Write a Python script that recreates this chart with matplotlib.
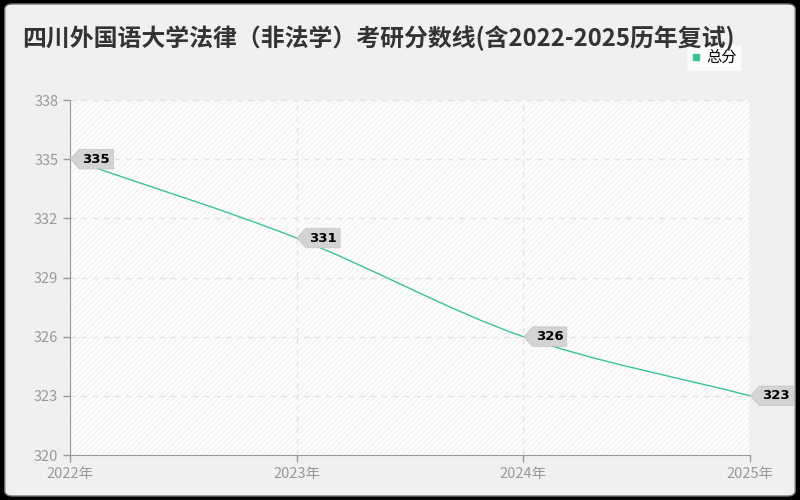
import matplotlib.pyplot as plt
import numpy as np
from matplotlib.patches import FancyBboxPatch, Rectangle, PathPatch
from matplotlib.path import Path
from matplotlib.lines import Line2D

plt.rcParams['font.family'] = ['Noto Sans CJK SC', 'DejaVu Sans']

years = [2022, 2023, 2024, 2025]
year_labels = ['2022年', '2023年', '2024年', '2025年']
scores = [335, 331, 326, 323]
y_ticks = [320, 323, 326, 329, 332, 335, 338]
title = '四川外国语大学法律（非法学）考研分数线(含2022-2025历年复试)'
series_name = '总分'

line_color = '#3cc29a'
gray = '#999999'


def tag_box(x0, y0, width, height, mutation_size):
    pad = 0.25 * mutation_size
    x0, y0 = x0 - pad, y0 - pad
    x1, y1 = x0 + width + 2 * pad, y0 + height + 2 * pad
    ym = (y0 + y1) / 2
    tip = 0.45 * (y1 - y0)
    return Path([(x0, y0), (x1, y0), (x1, y1), (x0, y1), (x0 - tip, ym), (x0, y0)],
                closed=True)


fig = plt.figure(figsize=(8, 5), dpi=100, facecolor='black')
fig.patches.append(FancyBboxPatch((0.006, 0.008), 0.988, 0.984,
                                  boxstyle='round,pad=0,rounding_size=0.01',
                                  transform=fig.transFigure, facecolor='#f0f0f0',
                                  edgecolor='#777777', linewidth=1, zorder=-10))

ax = fig.add_axes([0.0875, 0.09, 0.85, 0.71])
ax.set_facecolor('#fdfdfd')
ax.add_patch(Rectangle((0, 0), 1, 1, transform=ax.transAxes, facecolor='none',
                       edgecolor='#f3f3f3', hatch='//////', linewidth=0, zorder=0))

# smooth line through the points (cubic bezier segments)
x = np.array(years, dtype=float)
y = np.array(scores, dtype=float)
n = len(x)
slopes = np.zeros(n)
for i in range(n):
    if i == 0:
        slopes[i] = (y[1] - y[0]) / (x[1] - x[0])
    elif i == n - 1:
        slopes[i] = (y[-1] - y[-2]) / (x[-1] - x[-2])
    else:
        slopes[i] = (y[i + 1] - y[i - 1]) / (x[i + 1] - x[i - 1])
verts = [(x[0], y[0])]
codes = [Path.MOVETO]
for i in range(n - 1):
    h = (x[i + 1] - x[i]) / 3
    verts += [(x[i] + h, y[i] + slopes[i] * h),
              (x[i + 1] - h, y[i + 1] - slopes[i + 1] * h),
              (x[i + 1], y[i + 1])]
    codes += [Path.CURVE4] * 3
ax.add_patch(PathPatch(Path(verts, codes), facecolor='none', edgecolor=line_color,
                       linewidth=1, zorder=3, clip_on=False))

for xv, yv in zip(years, scores):
    ax.annotate(str(yv), (xv, yv), xytext=(9, 0), textcoords='offset points',
                ha='left', va='center', fontsize=9.5, fontweight='bold', color='black',
                family=['DejaVu Sans'],
                bbox=dict(boxstyle=tag_box, facecolor='#d3d3d3',
                          edgecolor='#c4c4c4', linewidth=0.5),
                zorder=5, annotation_clip=False)

ax.set_xlim(2022, 2025)
ax.set_ylim(320, 338)
ax.set_xticks(years)
ax.set_xticklabels(year_labels)
ax.set_yticks(y_ticks)
ax.tick_params(colors=gray, labelsize=10.5, length=5, width=1)
for lab in ax.get_xticklabels() + ax.get_yticklabels():
    lab.set_color(gray)
ax.grid(True, linestyle=(0, (4, 4)), color='#e3e3e3', linewidth=1)
ax.set_axisbelow(True)
for side in ['top', 'right']:
    ax.spines[side].set_visible(False)
ax.spines['left'].set_color(gray)
ax.spines['bottom'].set_color(gray)
ax.axvline(2025, color='#dddddd', linewidth=1, zorder=1)

fig.text(0.028, 0.924, title, fontsize=17.2, fontweight='bold', color='#333333',
         ha='left', va='center')

handle = Line2D([], [], linestyle='none', marker='s', markersize=4,
                color=line_color, label=series_name)
leg = ax.legend(handles=[handle], loc='upper right', bbox_to_anchor=(1.0, 1.18),
                frameon=True, fontsize=11, handlelength=0.6, handletextpad=0.4,
                borderpad=0.35, fancybox=True)
leg.get_frame().set_facecolor('white')
leg.get_frame().set_edgecolor('#eeeeee')

fig.savefig('out.png', dpi=100, facecolor='black')
